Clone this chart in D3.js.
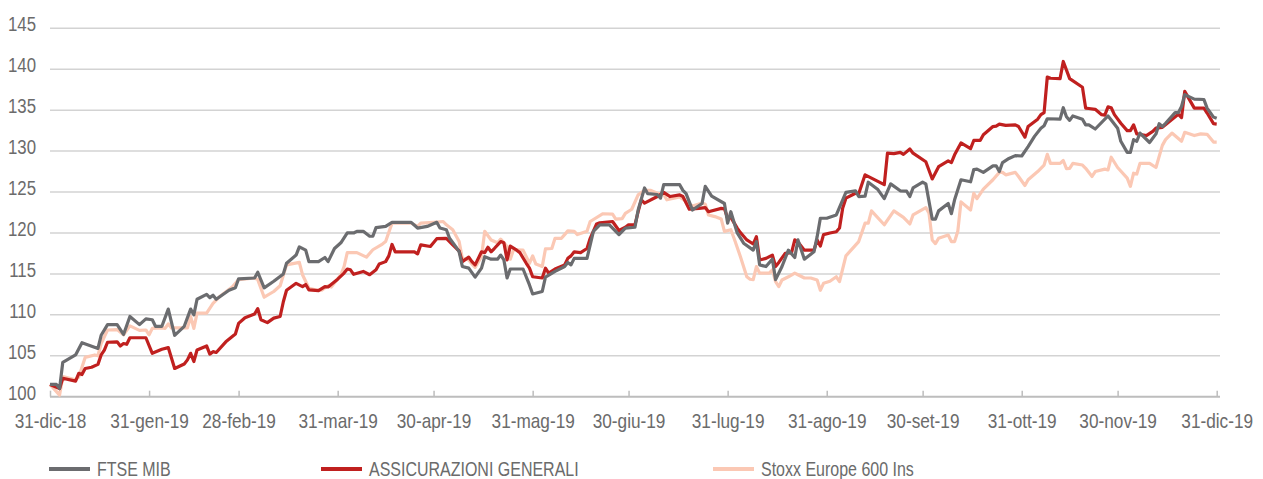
<!DOCTYPE html>
<html>
<head>
<meta charset="utf-8">
<script src="https://cdn.jsdelivr.net/npm/d3@7"></script>
<style>
  html, body { margin: 0; padding: 0; background: #ffffff; }
  svg { display: block; }
  .lbl { font-family: "Liberation Sans", Arial, sans-serif; fill: #6b6b6b; }
</style>
</head>
<body>
<svg id="chart" width="1263" height="479"></svg>
<script>
// Performance 2019, rebased to 100 on 31 Dec 2018.
// Each series: days after 31 Dec 2018 and the index level on that day.
const seriesNames = ["FTSE MIB", "ASSICURAZIONI GENERALI", "Stoxx Europe 600 Ins"];

const ftseDay = [0,2,3,4,8,10,15,16,18,21,23,25,28,30,32,33,35,37,39,42,44,45,46,49,50,51,52,56,58,59,64,65,67,70,73,74,77,78,80,81,84,86,87,89,91,93,95,96,98,100,101,102,105,107,113,115,118,121,122,124,125,127,128,129,131,133,135,136,138,140,141,142,143,144,148,150,151,154,155,158,161,162,163,164,168,170,172,175,177,178,180,183,184,186,187,190,191,192,197,198,199,201,204,205,207,211,212,213,215,217,220,221,222,224,226,227,229,231,233,234,236,239,240,241,243,246,249,252,253,255,256,259,261,263,266,268,269,270,273,274,276,277,278,281,282,283,285,288,289,290,292,295,296,297,298,300,302,304,306,308,310,311,312,316,317,318,319,320,323,324,325,327,331,332,334,335,337,338,339,340,341,344,346,347,348,349,352,353,354,355,358,361,362,364,365];
const ftseValue = [101.5,101.5,101.0,104.2,105.1,106.6,105.9,107.5,108.8,108.8,107.6,109.8,108.8,109.5,109.4,108.6,108.6,110.7,107.5,108.6,110.7,110.0,111.9,112.5,112.1,112.4,111.9,113.0,113.3,114.4,114.5,115.2,113.3,114.1,115.0,116.3,117.3,118.3,117.9,116.5,116.5,117.0,116.5,118.1,118.8,120.0,120.0,120.2,120.2,119.6,119.6,120.65,120.8,121.3,121.3,120.6,120.8,121.3,120.6,120.4,119.35,118.3,117.7,115.9,115.7,114.6,115.7,117.1,116.8,116.8,117.3,116.7,114.5,115.6,115.6,113.65,112.55,112.85,114.6,115.3,115.9,116.4,116.1,116.9,116.9,120.2,121.0,121.0,120.2,119.8,120.6,120.7,122.8,125.5,124.8,124.7,124.25,125.9,125.9,125.2,124.8,122.8,123.6,125.7,124.5,123.6,121.2,122.6,120.0,118.75,117.9,118.95,116.1,115.9,116.8,114.3,115.9,117.9,117.0,119.15,116.8,117.7,119.55,121.8,121.8,122.2,124.95,125.15,124.45,124.5,126.2,125.3,124.2,126.0,125.15,125.1,124.45,125.5,126.2,126.0,121.7,121.7,122.7,123.6,122.35,124.05,126.5,126.25,127.75,127.8,127.4,128.2,128.2,127.5,128.6,129.1,129.45,129.4,130.55,131.8,132.8,133.1,133.95,133.9,135.3,134.2,133.75,134.3,133.9,133.2,133.2,132.7,134.3,133.8,132.8,131.2,129.85,129.85,131.4,131.2,132.2,131.05,132.1,133.35,133.0,133.4,134.7,134.7,135.45,136.9,136.35,136.3,135.25,134.15,134.0];

const generaliDay = [0,3,4,8,9,10,11,13,15,16,17,18,21,22,23,24,25,30,32,35,37,39,42,43,44,45,46,49,50,51,52,55,58,59,61,64,65,66,68,70,72,73,74,77,79,80,81,84,86,87,90,92,93,94,95,98,100,102,103,105,106,107,108,114,115,116,119,121,124,126,128,129,131,132,133,135,136,137,138,139,141,142,143,144,146,147,149,150,151,154,155,156,158,161,162,163,164,166,168,169,171,172,176,178,180,181,183,184,185,186,190,192,194,197,198,200,203,205,206,210,211,212,213,215,216,218,220,221,222,224,226,227,228,230,232,233,234,236,239,240,241,242,244,246,247,248,249,252,253,255,261,262,264,266,267,269,270,274,276,278,281,282,283,285,288,289,291,292,295,296,297,299,302,303,305,306,309,310,311,312,313,316,317,319,323,324,325,327,329,330,331,332,333,335,337,338,339,340,343,345,346,348,353,354,355,358,361,362,364,365];
const generaliValue = [101.5,101.0,102.25,101.9,102.85,102.7,103.45,103.6,103.95,105.1,105.7,106.65,106.7,106.2,106.5,106.4,107.2,107.2,105.3,105.8,106.0,103.45,104.0,104.5,105.3,104.3,105.7,106.2,105.2,105.5,105.4,106.7,107.65,108.95,109.65,110.1,110.75,109.4,109.05,109.6,109.8,111.6,113.0,113.85,113.45,113.7,113.05,112.95,113.45,113.4,114.35,115.1,115.6,115.5,114.95,115.3,114.9,115.5,116.2,116.5,117.2,118.6,117.7,117.7,117.45,118.55,118.35,119.3,119.35,118.55,117.8,116.5,117.05,116.5,116.1,117.7,117.6,118.25,117.7,118.1,118.95,118.8,116.7,118.4,117.9,117.6,116.3,115.7,114.65,114.5,115.7,115.1,115.6,116.1,116.9,117.2,117.7,117.6,118.1,119.35,121.1,121.25,121.4,120.3,120.7,121.0,121.0,122.6,124.05,123.65,124.45,124.95,124.45,124.65,124.45,122.9,123.0,123.1,122.6,123.0,122.95,121.8,121.9,120.6,120.05,119.15,118.65,119.55,116.7,116.9,117.3,115.9,116.4,117.5,117.6,119.15,118.9,117.9,117.9,119.15,118.4,119.8,120.0,120.15,120.6,123.05,124.25,124.85,124.8,127.1,125.9,129.75,129.7,129.85,129.6,130.25,129.75,128.7,126.6,128.1,128.8,128.6,129.55,131.0,130.3,131.3,131.3,132.0,133.0,133.05,133.3,133.15,133.2,133.0,131.7,133.0,133.9,134.45,134.7,139.05,138.9,138.85,140.95,138.85,137.8,135.25,135.2,135.1,134.45,134.4,135.4,135.3,134.45,133.4,132.5,132.5,133.2,132.1,131.9,132.4,132.8,132.9,134.5,134.1,137.3,135.25,135.25,134.65,133.35,133.3];

const stoxxDay = [0,3,4,8,9,11,14,15,16,18,21,23,25,28,30,31,32,35,36,37,38,43,44,45,46,49,51,53,57,59,64,65,67,70,72,74,78,79,81,83,85,87,88,91,92,93,96,99,101,104,105,107,113,115,116,120,123,124,126,128,129,131,132,133,135,136,138,140,141,143,144,145,148,150,151,152,154,155,157,158,160,161,162,164,165,168,169,173,176,177,179,180,182,184,186,188,190,192,193,197,199,201,204,205,206,208,210,211,213,214,216,218,219,220,221,222,225,226,227,228,229,231,233,234,236,238,240,241,242,244,246,247,249,253,255,256,257,261,264,267,269,270,274,275,276,277,278,281,282,283,284,285,288,289,290,292,295,297,298,299,302,303,305,306,309,311,312,313,316,317,318,319,320,323,324,326,327,330,331,332,334,337,338,339,340,341,344,346,348,349,351,354,355,358,360,362,364,365];
const stoxxValue = [101.5,100.2,102.45,102.05,102.4,104.8,105.1,105.0,106.5,108.15,108.2,107.55,108.65,108.1,108.15,107.55,108.35,108.4,108.35,108.9,108.4,108.4,109.8,108.35,110.2,110.2,111.4,112.2,113.4,114.3,114.5,114.3,112.15,112.85,113.55,116.1,116.4,114.9,113.25,113.05,113.0,113.55,113.4,114.9,115.9,117.6,117.6,117.05,117.95,118.65,118.95,121.2,121.2,120.8,121.2,121.3,121.4,121.0,120.4,118.95,116.9,116.7,116.2,115.8,117.1,120.2,119.15,118.8,119.25,118.35,116.8,117.95,117.9,116.3,117.2,116.2,115.9,118.05,118.1,119.35,119.35,119.8,120.25,120.2,119.8,120.2,121.4,122.35,122.3,121.7,121.75,122.4,122.9,124.65,125.2,125.2,124.85,124.7,124.05,124.4,123.85,123.3,123.65,123.5,122.2,122.0,121.7,120.2,120.4,119.35,117.1,114.65,114.35,114.3,115.9,115.1,115.1,115.5,114.05,113.45,114.25,114.65,115.1,114.9,114.5,114.5,114.25,113.0,113.85,114.1,114.65,114.05,117.2,118.95,121.2,121.2,122.7,121.0,122.7,121.9,121.1,122.2,123.1,122.4,119.15,118.7,119.35,119.75,118.95,118.95,120.2,123.8,122.8,124.85,124.2,125.35,126.5,127.4,127.4,127.1,127.4,126.9,125.8,126.5,127.5,128.3,129.6,128.5,128.5,128.85,127.85,127.9,128.5,128.3,127.9,126.9,127.5,127.8,127.7,129.25,128.0,126.7,125.7,127.3,127.2,128.5,128.5,128.0,130.7,131.4,132.2,131.2,132.3,131.9,132.1,132.05,131.1,131.1];

// Axis tick dates and their labels
const tickDates = ["2018-12-31","2019-01-31","2019-02-28","2019-03-31","2019-04-30","2019-05-31","2019-06-30","2019-07-31","2019-08-31","2019-09-30","2019-10-31","2019-11-30","2019-12-31"];
const tickLabels = ["31-dic-18","31-gen-19","28-feb-19","31-mar-19","30-apr-19","31-mag-19","30-giu-19","31-lug-19","31-ago-19","30-set-19","31-ott-19","30-nov-19","31-dic-19"];
const yTicks = [100,105,110,115,120,125,130,135,140,145];

const colors = ["#6b6c6f", "#c0201f", "#fbc8b4"];

// Labels use a narrowed sans-serif face (horizontal squeeze of the glyphs)
const squeeze = 0.82;

const svg = d3.select("#chart");
const parse = d3.timeParse("%Y-%m-%d");
const start = parse(tickDates[0]);
const end = parse(tickDates[tickDates.length - 1]);

const plotLeft = 50, plotRight = 1216.7, plotEnd = 1220;
const plotTop = 28.3, plotBottom = 396.7;

const x = d3.scaleTime().domain([start, end]).range([plotLeft, plotRight]);
const y = d3.scaleLinear().domain([100, 145]).range([plotBottom, plotTop]);

// Horizontal gridlines
svg.append("g")
  .selectAll("line")
  .data(yTicks.slice(1))
  .join("line")
  .attr("x1", plotLeft).attr("x2", plotEnd)
  .attr("y1", d => y(d)).attr("y2", d => y(d))
  .attr("stroke", "#d3d3d3").attr("stroke-width", 1.5);

// Y axis labels
const yPad = 14;
const yAxis = svg.append("g")
  .attr("transform", `translate(${plotLeft},0)`)
  .call(d3.axisLeft(y).tickValues(yTicks).tickSize(0).tickPadding(yPad));
yAxis.select(".domain").remove();
yAxis.selectAll("text")
  .attr("class", "lbl")
  .attr("x", 0)
  .attr("dy", "0.12em")
  .attr("transform", `translate(${-yPad},0) scale(${squeeze},1)`)
  .style("font-size", "20.5px")
  .attr("fill", null);

// X axis: baseline, upward ticks, labels
svg.append("line")
  .attr("x1", plotLeft).attr("x2", plotEnd)
  .attr("y1", plotBottom).attr("y2", plotBottom)
  .attr("stroke", "#bdbdbd").attr("stroke-width", 2);

const xAxis = svg.append("g")
  .attr("transform", `translate(0,${plotBottom})`)
  .call(d3.axisBottom(x)
    .tickValues(tickDates.map(parse))
    .tickFormat((d, i) => tickLabels[i])
    .tickSize(-6)
    .tickPadding(16));
xAxis.select(".domain").remove();
xAxis.selectAll(".tick line").attr("stroke", "#bdbdbd").attr("stroke-width", 1.5);
xAxis.selectAll("text")
  .attr("class", "lbl")
  .attr("transform", `scale(${squeeze},1)`)
  .style("font-size", "21px")
  .attr("fill", null);

// Series lines
const seriesData = [
  { name: seriesNames[2], color: colors[2], days: stoxxDay, values: stoxxValue },
  { name: seriesNames[1], color: colors[1], days: generaliDay, values: generaliValue },
  { name: seriesNames[0], color: colors[0], days: ftseDay, values: ftseValue }
];

const line = d3.line()
  .x(d => x(d.date))
  .y(d => y(d.value));

seriesData.forEach(s => {
  const pts = s.days.map((dd, i) => ({ date: d3.timeDay.offset(start, dd), value: s.values[i] }));
  svg.append("path")
    .datum(pts)
    .attr("fill", "none")
    .attr("stroke", s.color)
    .attr("stroke-width", 3.2)
    .attr("stroke-linejoin", "round")
    .attr("d", line);
});

// Legend
const legendX = [49, 321, 713];
const legendY = 469;
const legend = svg.append("g");
seriesNames.forEach((name, i) => {
  legend.append("line")
    .attr("x1", legendX[i]).attr("x2", legendX[i] + 41)
    .attr("y1", legendY).attr("y2", legendY)
    .attr("stroke", colors[i]).attr("stroke-width", 4);
  legend.append("text")
    .attr("class", "lbl")
    .attr("transform", `translate(${legendX[i] + 48},${legendY + 7}) scale(${squeeze},1)`)
    .style("font-size", "19.5px")
    .text(name);
});
</script>
</body>
</html>
